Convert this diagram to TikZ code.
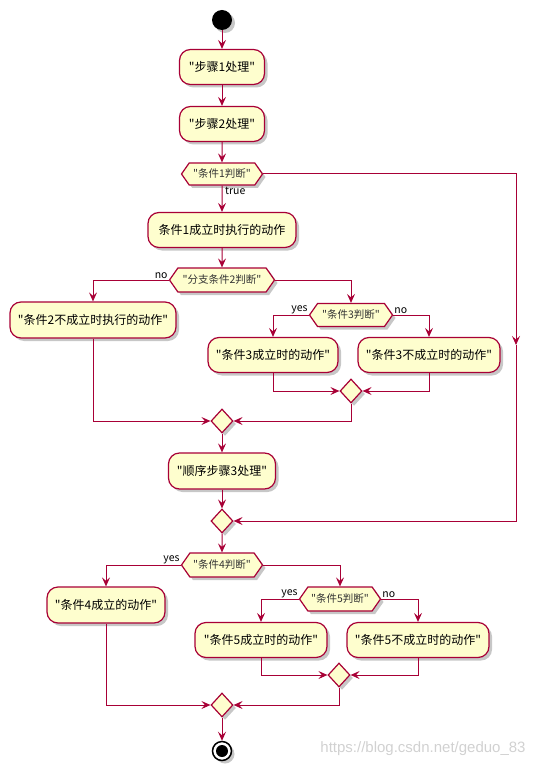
\documentclass[tikz,border=0pt]{standalone}
\usepackage{fontspec}
\usepackage{xcolor}
\usepackage{tikz}
\usetikzlibrary{shapes.geometric, shapes.symbols, arrows.meta, positioning, shadows}
\newfontfamily\cjk{Noto Sans CJK SC}
\newfontfamily\wmfont{Liberation Sans}
\definecolor{umlred}{HTML}{A80036}
\definecolor{umlfill}{HTML}{FEFECE}
\definecolor{umltext}{HTML}{333333}

\begin{document}
\begin{tikzpicture}[
    x=1pt, y=-1pt,
    shade/.style={drop shadow={shadow xshift=3pt, shadow yshift=-3pt, fill=black, opacity=0.22}},
    action/.style={draw=umlred, fill=umlfill, line width=1.2pt, rounded corners=11pt, minimum height=35pt, inner xsep=4pt, align=center, font=\cjk\fontsize{12}{14}\selectfont, shade},
    decision/.style={signal, signal to=east and west, signal pointer angle=110, draw=umlred, fill=umlfill, line width=1.2pt, minimum height=24pt, inner xsep=2pt, inner ysep=1pt, font=\cjk\fontsize{10.5}{12}\selectfont, text=umltext, shade},
    merge/.style={diamond, draw=umlred, fill=umlfill, line width=1.2pt, minimum width=22pt, minimum height=24pt, inner sep=0pt, shade},
    startnode/.style={circle, fill=black, minimum size=20pt, inner sep=0pt, shade},
    endnode/.style={circle, draw=black, line width=1.5pt, fill=white, minimum size=19pt, inner sep=0pt, shade,
        path picture={\fill[black] (path picture bounding box.center) circle (6pt);}},
    flow/.style={draw=umlred, line width=1pt, -{Stealth[length=9pt, width=8pt, inset=3.5pt]}},
    lbl/.style={font=\cjk\fontsize{10.5}{12}\selectfont, inner sep=1pt},
]
    \useasboundingbox (0,0) rectangle (540,767);

    % Main column
    \node[startnode] (start) at (222,20) {};
    \node[action, minimum width=85pt] (step1) at (222,67) {"步骤1处理"};
    \node[action, minimum width=85pt] (step2) at (222,124) {"步骤2处理"};
    \node[decision, minimum width=81pt, minimum height=22pt] (cond1) at (222,174) {"条件1判断"};
    \node[action, minimum width=148pt] (act1) at (222,230) {条件1成立时执行的动作};
    \node[decision, minimum width=105pt] (cond2) at (222,280) {"分支条件2判断"};

    % Branch of condition 2
    \node[action, minimum width=166pt, minimum height=36pt] (act2no) at (93,320) {"条件2不成立时执行的动作"};
    \node[decision, minimum width=83pt, minimum height=23pt] (cond3) at (351,315) {"条件3判断"};
    \node[action, minimum width=130pt] (act3yes) at (273,355) {"条件3成立时的动作"};
    \node[action, minimum width=142pt] (act3no) at (429,355) {"条件3不成立时的动作"};
    \node[merge] (merge3) at (351,391) {};
    \node[merge] (merge2) at (222,421) {};

    \node[action, minimum width=107pt, minimum height=36pt] (step3) at (222,471) {"顺序步骤3处理"};
    \node[merge] (merge1) at (222,521) {};
    \coordinate (bypass) at (516,345);

    % Condition 4 and 5
    \node[decision, minimum width=81pt] (cond4) at (222,565) {"条件4判断"};
    \node[action, minimum width=118pt, minimum height=36pt] (act4yes) at (106,605) {"条件4成立的动作"};
    \node[decision, minimum width=81pt] (cond5) at (340,599) {"条件5判断"};
    \node[action, minimum width=132pt] (act5yes) at (261,640) {"条件5成立时的动作"};
    \node[action, minimum width=142pt] (act5no) at (418,640) {"条件5不成立时的动作"};
    \node[merge] (merge5) at (339,675) {};
    \node[merge] (merge4) at (222,705) {};
    \node[endnode] (stop) at (222,751) {};

    % Main arrows
    \draw[flow] (start) -- (step1);
    \draw[flow] (step1) -- (step2);
    \draw[flow] (step2) -- (cond1);
    \draw[flow] (cond1) -- (act1);
    \draw[flow] (act1) -- (cond2);

    \draw[flow] (cond2.west) -| (act2no.north);
    \draw[flow] (cond2.east) -| (cond3.north);
    \draw[flow] (cond3.west) -| (act3yes.north);
    \draw[flow] (cond3.east) -| (act3no.north);
    \draw[flow] (act3yes.south) |- (merge3.west);
    \draw[flow] (act3no.south) |- (merge3.east);
    \draw[flow] (merge3.south) |- (merge2.east);
    \draw[flow] (act2no.south) |- (merge2.west);
    \draw[flow] (merge2) -- (step3);
    \draw[flow] (step3) -- (merge1);

    \draw[flow] (cond1.east) -| (bypass);
    \draw[flow] (bypass) |- (merge1.east);

    \draw[flow] (merge1) -- (cond4);
    \draw[flow] (cond4.west) -| (act4yes.north);
    \draw[flow] (cond4.east) -| (cond5.north);
    \draw[flow] (cond5.west) -| (act5yes.north);
    \draw[flow] (cond5.east) -| (act5no.north);
    \draw[flow] (act5yes.south) |- (merge5.west);
    \draw[flow] (act5no.south) |- (merge5.east);
    \draw[flow] (merge5.south) |- (merge4.east);
    \draw[flow] (act4yes.south) |- (merge4.west);
    \draw[flow] (merge4) -- (stop);

    % Branch labels
    \node[lbl, anchor=north west] (ltrue) at ([xshift=2pt]cond1.south) {true};
    \node[lbl, anchor=south east] (lno2) at (cond2.west) {no};
    \node[lbl, anchor=south east] (lyes3) at (cond3.west) {yes};
    \node[lbl, anchor=south west] (lno3) at (cond3.east) {no};
    \node[lbl, anchor=south east] (lyes4) at (cond4.west) {yes};
    \node[lbl, anchor=south east] (lyes5) at (cond5.west) {yes};
    \node[lbl, anchor=south west] (lno5) at (cond5.east) {no};

    % Watermark
    \node[font=\wmfont\fontsize{15}{17}\selectfont, text=black!18] (mark) at (423,749) {https://blog.csdn.net/geduo\_83};
\end{tikzpicture}
\end{document}
